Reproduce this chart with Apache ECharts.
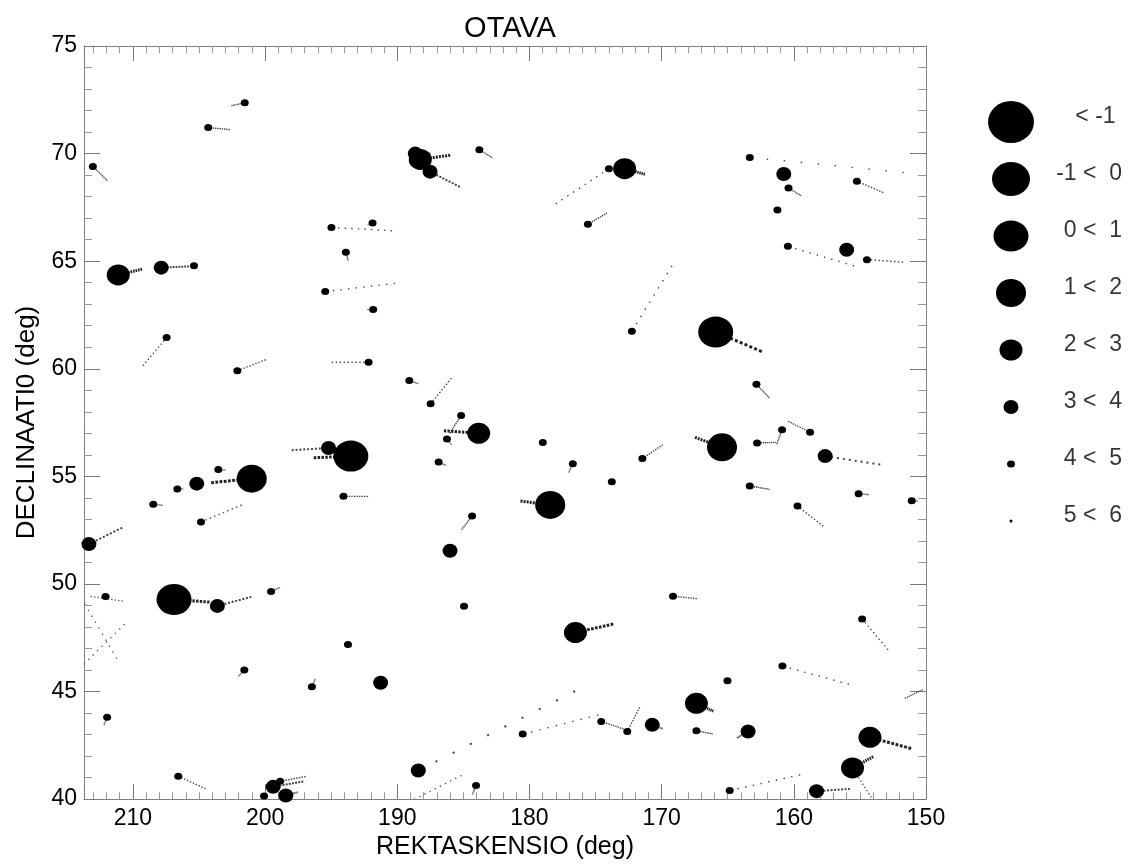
<!DOCTYPE html>
<html><head><meta charset="utf-8">
<script src="https://cdn.jsdelivr.net/npm/echarts@6/dist/echarts.min.js"></script>
<style>html,body{margin:0;padding:0;background:#fff}#c{width:1131px;height:865px}</style>
</head><body><div id="c"></div>
<script>
const chartTitle = 'OTAVA';
const xAxisTitle = 'REKTASKENSIO (deg)';
const yAxisTitle = 'DECLINAATI0 (deg)';
const magClasses = ['< -1 ', '-1 <  0', '0 <  1', '1 <  2', '2 <  3', '3 <  4', '4 <  5', '5 <  6'];

// star positions (RA, Dec in degrees) and magnitude class (index into magClasses)
const starRA = [201.54,204.30,213.03,194.98,191.87,193.89,195.45,211.11,207.86,205.38,
188.64,188.26,187.52,183.79,173.99,172.80,175.58,163.33,160.76,160.40,
161.24,155.23,160.45,156.00,154.47,172.25,191.82,207.45,202.10,192.17,
193.51,195.20,194.07,201.01,203.54,205.17,206.64,208.46,204.85,213.33,
189.09,187.48,185.17,183.84,186.24,186.87,178.99,176.72,173.77,171.46,
178.43,184.34,186.01,165.91,162.83,165.43,162.78,160.89,158.77,157.63,
163.33,155.10,151.08,159.72,212.07,206.89,203.61,199.55,193.73,201.57,
196.46,211.95,206.57,199.39,198.86,200.08,198.43,184.95,176.52,191.26,
188.41,180.51,174.57,172.60,184.04,169.14,154.83,160.86,165.02,167.37,
170.71,167.37,163.46,154.24,155.56,158.28,164.85];
const starDec = [72.36,71.21,69.40,66.57,66.77,65.41,63.59,64.36,64.70,64.79,
70.00,69.73,69.16,70.18,69.30,69.30,66.72,69.82,69.05,68.40,
67.38,68.71,65.69,65.53,65.07,61.74,62.75,61.45,59.91,60.30,
55.94,56.32,54.07,54.89,55.32,54.66,54.41,53.70,52.88,51.85,
59.45,58.37,57.83,57.00,56.74,55.67,56.57,55.59,54.75,55.83,
53.67,53.16,51.54,61.71,59.28,56.35,56.55,57.17,57.05,55.94,
54.55,54.19,53.86,53.62,49.42,49.28,48.98,49.65,47.18,46.00,
45.22,43.80,41.06,40.57,40.83,40.14,40.17,48.96,47.74,45.41,
41.33,43.02,43.61,43.14,40.63,49.43,48.37,46.18,45.50,44.45,
43.45,43.18,43.14,42.87,41.45,40.37,40.40];
const starMagClass = [6,6,6,6,6,6,6,4,5,6,
5,4,5,6,6,4,6,6,5,6,
6,6,6,5,6,6,6,6,6,6,
2,5,6,3,6,5,6,6,6,5,
6,6,6,4,6,6,6,6,6,6,
3,6,5,2,6,3,6,6,6,5,
6,6,6,6,6,2,5,6,6,6,
6,6,6,5,6,6,5,6,4,5,
5,6,6,6,6,6,6,6,6,4,
5,6,5,4,4,5,6];
// end point of each star's motion trail (null = no trail)
const trailEndRA = [202.58,202.60,211.89,190.00,192.25,193.70,189.70,209.24,205.68,null,
187.45,185.91,185.17,182.78,178.36,171.21,174.07,150.50,null,159.42,
null,153.11,155.00,null,151.54,168.94,192.30,209.37,199.83,195.15,
196.42,198.13,192.12,204.19,202.98,null,206.18,207.73,201.54,210.68,
188.38,185.81,186.06,186.57,185.90,186.30,null,177.05,null,169.83,
180.76,185.17,null,162.27,161.82,167.55,161.31,161.31,160.51,153.16,
161.77,154.30,150.58,157.65,null,204.11,200.91,198.84,193.40,202.04,
196.20,212.20,204.37,197.02,196.84,null,197.50,null,173.56,null,
175.38,174.27,172.80,171.61,184.34,167.25,152.73,155.38,null,166.04,
169.90,166.10,164.34,151.01,153.94,155.63,159.04];
const trailEndDec = [72.22,71.11,68.72,66.40,66.68,65.00,64.00,64.64,64.76,null,
70.00,69.93,68.42,69.80,67.52,69.03,67.26,69.05,null,68.03,
null,68.16,64.70,null,64.95,65.06,62.75,60.05,60.45,60.30,
55.86,56.21,54.07,54.70,55.29,null,54.42,53.65,53.73,52.65,
59.30,59.63,56.97,57.12,56.47,55.50,null,55.16,null,56.50,
53.86,52.49,null,60.76,58.63,56.83,56.58,56.47,57.58,55.52,
54.39,54.15,53.85,52.62,null,49.15,49.42,49.85,47.07,45.69,
45.60,43.42,40.45,40.83,41.06,null,40.32,null,48.15,null,
45.38,43.99,43.24,44.33,40.17,49.31,46.84,45.26,null,44.07,
43.26,43.02,42.83,42.33,41.99,40.48,41.19];
// trails of faint stars / extra trails
const looseStartRA = [213.71,213.66,213.20,188.71,151.60,155.56];
const looseStartDec = [46.27,49.08,49.42,39.99,44.68,41.45];
const looseEndRA = [210.36,211.00,210.60,184.85,150.20,154.04];
const looseEndDec = [48.29,46.30,49.19,41.19,45.10,39.98];

// ---------- styling ----------
const CLASS_SIZE = [[46,42],[38,34],[35,31],[30,28],[23,21],[15,14],[8,7],[3,3]];
const TRAIL_WIDTH = [3,3,3,3,3,2,1.4,1.3];
const STEPS = 10;
const ELLIPSE = 'path://M0,50A50,50 0 1,0 100,50A50,50 0 1,0 0,50Z';
const FONT = 'Liberation Sans';

const starData = starRA.map((ra, i) => [ra, starDec[i], starMagClass[i]]);
const trailData = [];
starRA.forEach((ra, i) => {
  if (trailEndRA[i] !== null) trailData.push([ra, starDec[i], trailEndRA[i], trailEndDec[i], starMagClass[i]]);
});
looseStartRA.forEach((ra, i) => trailData.push([ra, looseStartDec[i], looseEndRA[i], looseEndDec[i], 7]));

const axisCommonX = {
  type: 'value', min: 150, max: 213.7, inverse: true, interval: 10,
  axisLine: { show: true, lineStyle: { color: '#808080', width: 1 } },
  axisTick: { show: true, inside: true, length: 15, lineStyle: { color: '#777' } },
  minorTick: { show: true, splitNumber: 10, length: 7, lineStyle: { color: '#999' } },
  splitLine: { show: false }, minorSplitLine: { show: false }
};
const axisCommonY = {
  type: 'value', min: 40, max: 75, interval: 5,
  axisLine: { show: true, lineStyle: { color: '#808080', width: 1 } },
  axisTick: { show: true, inside: true, length: 16, lineStyle: { color: '#777' } },
  minorTick: { show: true, splitNumber: 5, length: 8, lineStyle: { color: '#999' } },
  splitLine: { show: false }, minorSplitLine: { show: false }
};

const chart = echarts.init(document.getElementById('c'), null, { renderer: 'canvas' });
chart.setOption({
  animation: false,
  backgroundColor: '#fff',
  title: {
    text: chartTitle, left: 505, top: 9, textAlign: 'center',
    textStyle: { fontFamily: FONT, fontSize: 29, fontWeight: 'normal', color: '#000' }
  },
  grid: [
    { left: 84, right: 205, top: 46, bottom: 62 },
    { left: 990, top: 93.5, width: 132, height: 456 }
  ],
  xAxis: [
    Object.assign({}, axisCommonX, {
      gridIndex: 0, position: 'bottom',
      axisLabel: { show: true, showMaxLabel: false, fontFamily: FONT, fontSize: 23, color: '#000', margin: 8 },
      name: xAxisTitle, nameLocation: 'middle', nameGap: 31,
      nameTextStyle: { fontFamily: FONT, fontSize: 25, color: '#000' }
    }),
    Object.assign({}, axisCommonX, { gridIndex: 0, position: 'top', axisLabel: { show: false } }),
    { type: 'value', gridIndex: 1, min: 0, max: 132, show: false }
  ],
  yAxis: [
    Object.assign({}, axisCommonY, {
      gridIndex: 0, position: 'left',
      axisLabel: { show: true, fontFamily: FONT, fontSize: 23, color: '#000', margin: 7 },
      name: yAxisTitle, nameLocation: 'middle', nameGap: 44, nameRotate: 90,
      nameTextStyle: { fontFamily: FONT, fontSize: 26, color: '#000' }
    }),
    Object.assign({}, axisCommonY, { gridIndex: 0, position: 'right', axisLabel: { show: false } }),
    { type: 'category', gridIndex: 1, data: magClasses, inverse: true, show: false }
  ],
  series: [
    {
      type: 'custom', xAxisIndex: 0, yAxisIndex: 0, clip: true, silent: true, z: 2,
      encode: { x: [0, 2], y: [1, 3] },
      data: trailData,
      renderItem: function (params, api) {
        const p1 = api.coord([api.value(0), api.value(1)]);
        const p2 = api.coord([api.value(2), api.value(3)]);
        const cls = api.value(4);
        const w = TRAIL_WIDTH[cls];
        const len = Math.hypot(p2[0] - p1[0], p2[1] - p1[1]);
        const period = Math.max(len / STEPS, 0.6);
        const dash = Math.min(w, period * 0.65);
        return {
          type: 'line',
          shape: { x1: p1[0], y1: p1[1], x2: p2[0], y2: p2[1] },
          style: { stroke: cls <= 4 ? '#222' : '#444', lineWidth: w, lineDash: [dash, Math.max(period - dash, 0.3)], lineCap: 'butt' }
        };
      }
    },
    {
      type: 'scatter', xAxisIndex: 0, yAxisIndex: 0, silent: true, z: 3,
      symbol: ELLIPSE,
      symbolSize: function (v) { return CLASS_SIZE[v[2]]; },
      itemStyle: { color: '#000', opacity: 1 },
      emphasis: { disabled: true },
      data: starData
    },
    {
      type: 'scatter', xAxisIndex: 2, yAxisIndex: 2, silent: true,
      symbol: ELLIPSE, itemStyle: { color: '#000', opacity: 1 }, emphasis: { disabled: true },
      data: magClasses.map((c, i) => ({ value: [21, i], symbolSize: CLASS_SIZE[i] }))
    },
    {
      type: 'scatter', xAxisIndex: 2, yAxisIndex: 2, silent: true,
      symbolSize: 0, emphasis: { disabled: true },
      label: {
        show: true, position: 'left', distance: 0, offset: [0, -5],
        fontFamily: FONT, fontSize: 23, color: '#000',
        formatter: function (p) { return magClasses[p.dataIndex]; }
      },
      data: magClasses.map((c, i) => [132, i])
    }
  ]
});
</script></body></html>
